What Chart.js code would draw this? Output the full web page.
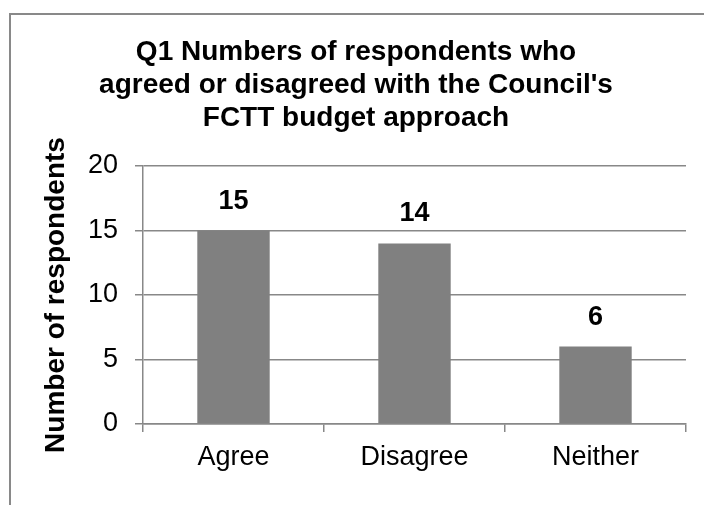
<!DOCTYPE html>
<html>
<head>
<meta charset="utf-8">
<script src="https://cdn.jsdelivr.net/npm/chart.js@4"></script>
<style>
  html, body { margin: 0; padding: 0; background: #fff; overflow: hidden; }
  #wrap { position: relative; width: 704px; height: 505px; }
</style>
</head>
<body>
<div id="wrap"><canvas id="chart"></canvas></div>
<script>
// data
const categories = ['Agree', 'Disagree', 'Neither'];
const respondents = [15, 14, 6];
const yTicks = [0, 5, 10, 15, 20];
const titleLines = ['Q1 Numbers of respondents who', "agreed or disagreed with the Council's", 'FCTT budget approach'];
const yTitle = 'Number of respondents';

const FONT = "'Liberation Sans', Arial, Helvetica, sans-serif";
const GRID = '#888888';

// outer frame of the chart (cut off at right and bottom in the original)
const framePlugin = {
  id: 'frame',
  beforeDraw(chart) {
    const ctx = chart.ctx;
    ctx.save();
    ctx.strokeStyle = '#898989';
    ctx.lineWidth = 2;
    ctx.strokeRect(10, 14, 800, 600);
    ctx.restore();
  }
};

// value labels above the bars
const valueLabels = {
  id: 'valueLabels',
  afterDatasetsDraw(chart) {
    const ctx = chart.ctx;
    const meta = chart.getDatasetMeta(0);
    ctx.save();
    ctx.font = 'bold 27px ' + FONT;
    ctx.fillStyle = '#000';
    ctx.textAlign = 'center';
    ctx.textBaseline = 'alphabetic';
    meta.data.forEach((bar, i) => {
      ctx.fillText(String(respondents[i]), bar.x, bar.y - 22);
    });
    ctx.restore();
  }
};

new Chart(document.getElementById('chart'), {
  type: 'bar',
  data: {
    labels: categories,
    datasets: [{
      data: respondents,
      backgroundColor: '#808080',
      borderWidth: 0,
      categoryPercentage: 1,
      barPercentage: 0.4
    }]
  },
  options: {
    responsive: true,
    maintainAspectRatio: false,
    animation: false,
    layout: { padding: { left: 26, right: 18, top: 0, bottom: 0 } },
    plugins: {
      legend: { display: false },
      tooltip: { enabled: false },
      title: {
        display: true,
        text: titleLines,
        color: '#000',
        font: { family: FONT, size: 28, weight: 'bold', lineHeight: 1.18 },
        padding: { top: 35.5, bottom: 31.4 }
      }
    },
    scales: {
      x: {
        grid: { display: true, drawOnChartArea: false, drawTicks: true, tickLength: 8, color: GRID, lineWidth: 1.5, offset: true },
        border: { display: true, color: GRID, width: 1.5 },
        ticks: { color: '#000', padding: 9, font: { family: FONT, size: 27 } },
        afterFit: s => { s.height = 81; }
      },
      y: {
        min: 0,
        max: 20,
        afterBuildTicks: s => { s.ticks = yTicks.map(v => ({ value: v })); },
        grid: { color: GRID, lineWidth: 1.5, tickLength: 8 },
        border: { display: true, color: GRID, width: 1.5 },
        ticks: { color: '#000', padding: 17, font: { family: FONT, size: 27 } },
        title: {
          display: true,
          text: yTitle,
          color: '#000',
          font: { family: FONT, size: 28, weight: 'bold' },
          padding: { top: 13, bottom: 0 }
        },
        afterFit: s => { s.width = 117; }
      }
    }
  },
  plugins: [framePlugin, valueLabels]
});
</script>
</body>
</html>
